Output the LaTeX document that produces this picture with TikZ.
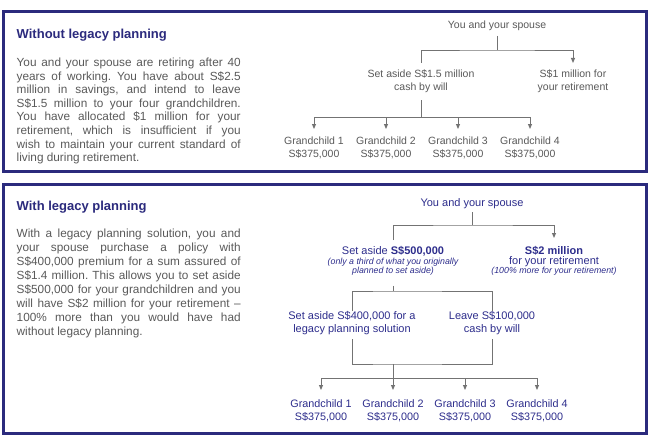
\documentclass[tikz,border=0pt]{standalone}
\usepackage{fontspec}
\setmainfont{Liberation Sans}
\usetikzlibrary{arrows.meta}
\definecolor{navy}{RGB}{43,42,125}
\definecolor{bodygray}{RGB}{90,90,90}
\definecolor{linegray}{RGB}{115,115,115}
\definecolor{dtext}{RGB}{45,45,140}
\hyphenpenalty=10000
\exhyphenpenalty=10000
\frenchspacing
\begin{document}
\begin{tikzpicture}[x=1pt,y=-1pt,
  frame/.style={draw=navy,line width=3pt},
  ttl/.style={anchor=base west,inner sep=0pt,text=navy,font=\fontsize{13}{15}\selectfont\bfseries},
  bodytext/.style={anchor=north west,inner sep=0pt,text width=224pt,align=justify,text=bodygray},
  lbla/.style={align=center,inner xsep=1pt,text=bodygray,font=\fontsize{10.5}{13}\selectfont},
  lblb/.style={align=center,inner xsep=1pt,text=dtext,font=\fontsize{11}{13.5}\selectfont},
  note/.style={align=center,inner sep=0pt,text=dtext,font=\fontsize{8.8}{9.8}\selectfont\itshape},
  conn/.style={draw=linegray,line width=0.9pt},
  arr/.style={conn,-{Triangle[length=5pt,width=4pt]}}]
\useasboundingbox (0,0) rectangle (650,436);
\fill[white] (0,0) rectangle (650,436);
% frames
\draw[frame] (3,11.7) rectangle (646.5,171.5);
\draw[frame] (3,184) rectangle (646.5,433.5);

% ---------- top panel ----------
\node[ttl] (t1) at (16.5,38) {Without legacy planning};
\node[bodytext,font=\fontsize{11.8}{13.6}\selectfont] (b1txt) at (16.5,57.7)
 {You and your spouse are retiring after 40\linebreak
  years of working. You have about S\$2.5\linebreak
  million in savings, and intend to leave\linebreak
  S\$1.5 million to your four grandchildren.\linebreak
  You have allocated \$1 million for your\linebreak
  retirement, which is insufficient if you\linebreak
  wish to maintain your current standard of\linebreak
  living during retirement.};

\node[lbla,anchor=south,inner ysep=5pt] (ys1) at (497,36) {You and your spouse};
\coordinate (j1) at (497,50);
\node[lbla,anchor=north,inner ysep=7pt] (sa1) at (421,63) {Set aside S\$1.5 million\\cash by will};
\node[lbla,anchor=north,inner ysep=7pt] (rt1) at (573,63) {S\$1 million for\\your retirement};
\coordinate (bus1) at (421,117.5);
\node[lbla,anchor=north,inner ysep=8pt] (g11) at (314,129) {Grandchild 1\\S\$375,000};
\node[lbla,anchor=north,inner ysep=8pt] (g12) at (386,129) {Grandchild 2\\S\$375,000};
\node[lbla,anchor=north,inner ysep=8pt] (g13) at (458,129) {Grandchild 3\\S\$375,000};
\node[lbla,anchor=north,inner ysep=8pt] (g14) at (530,129) {Grandchild 4\\S\$375,000};

\draw[conn] (ys1.south) -- (j1);
\draw[arr] (sa1.north) |- (j1) -| (rt1.north);
\draw[conn] (sa1.south) -- (bus1);
\foreach \g in {g11,g12,g13,g14} \draw[arr] (bus1) -| (\g.north);

% ---------- bottom panel ----------
\node[ttl] (t2) at (16.5,210.7) {With legacy planning};
\node[bodytext,font=\fontsize{11.8}{14}\selectfont] (b2txt) at (16.5,228.8)
 {With a legacy planning solution, you and\linebreak
  your spouse purchase a policy with\linebreak
  S\$400,000 premium for a sum assured of\linebreak
  S\$1.4 million. This allows you to set aside\linebreak
  S\$500,000 for your grandchildren and you\linebreak
  will have S\$2 million for your retirement –\linebreak
  100\% more than you would have had\linebreak
  without legacy planning.};

\node[lblb,anchor=south,inner ysep=3pt] (ys2) at (472,212) {You and your spouse};
\coordinate (j2) at (472,225);
\node[lblb,anchor=north,inner ysep=6pt] (sa2) at (393,240) {Set aside \textbf{S\$500,000}};
\node[note,anchor=north] (sa2n) at (393,257.5) {(only a third of what you originally\\planned to set aside)};
\node[lblb,anchor=north,inner ysep=8pt,font=\fontsize{11}{10.5}\selectfont] (rt2) at (554,238) {\textbf{S\$2 million}\\for your retirement};
\node[note,anchor=north] (rt2n) at (554,266.5) {(100\% more for your retirement)};
\coordinate (j3) at (393,291);
\node[lblb,anchor=north,inner ysep=4pt] (lp) at (352,307) {Set aside S\$400,000 for a\\legacy planning solution};
\node[lblb,anchor=north,inner ysep=4pt] (lv) at (492,307) {Leave S\$100,000\\cash by will};
\coordinate (j4) at (393,364);
\coordinate (bus2) at (393,378);
\node[lblb,anchor=north,inner ysep=9pt,font=\fontsize{10.8}{13}\selectfont] (g21) at (321,390) {Grandchild 1\\S\$375,000};
\node[lblb,anchor=north,inner ysep=9pt,font=\fontsize{10.8}{13}\selectfont] (g22) at (393,390) {Grandchild 2\\S\$375,000};
\node[lblb,anchor=north,inner ysep=9pt,font=\fontsize{10.8}{13}\selectfont] (g23) at (465,390) {Grandchild 3\\S\$375,000};
\node[lblb,anchor=north,inner ysep=9pt,font=\fontsize{10.8}{13}\selectfont] (g24) at (537,390) {Grandchild 4\\S\$375,000};

\draw[conn] (ys2.south) -- (j2);
\draw[arr] (sa2.north) |- (j2) -| (rt2.north);
\draw[conn,shorten <=10pt] (sa2n.south) -- (j3);
\draw[conn,shorten <=-4pt,shorten >=-4pt] (lp.north) |- (j3) -| (lv.north);
\draw[conn] (lp.south) |- (j4) -| (lv.south);
\draw[conn] (j4) -- (bus2);
\foreach \g in {g21,g22,g23,g24} \draw[arr] (bus2) -| (\g.north);
\end{tikzpicture}
\end{document}
